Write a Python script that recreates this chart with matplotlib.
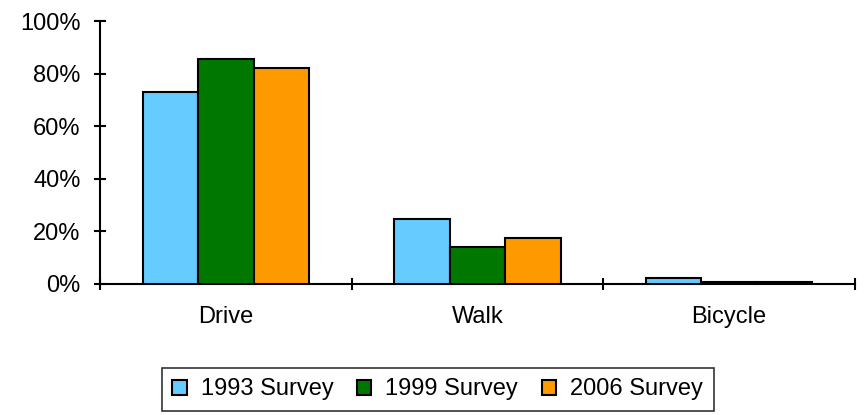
import numpy as np
import matplotlib.pyplot as plt
from matplotlib.ticker import FuncFormatter

# 数据
categories = ['Drive', 'Walk', 'Bicycle']
series_names = ['1993 Survey', '1999 Survey', '2006 Survey']
v1993 = [73.0, 24.7, 2.3]
v1999 = [85.6, 14.1, 0.8]
v2006 = [82.1, 17.5, 0.8]
colors = ['#66ccff', '#007800', '#ff9900']

plt.rcParams['font.family'] = ['Liberation Sans', 'DejaVu Sans']

fig = plt.figure(figsize=(8.65, 4.15), dpi=100)
ax = fig.add_axes([0.1156, 0.3157, 0.8728, 0.6333])

x = np.arange(len(categories))
w = 0.22
for i, (vals, name, c) in enumerate(zip([v1993, v1999, v2006], series_names, colors)):
    ax.bar(x + (i - 1) * w, vals, width=w, color=c, edgecolor='black',
           linewidth=1.5, label=name, zorder=3)

ax.set_xlim(-0.5, 2.5)
ax.set_ylim(0, 100)
ax.set_yticks(np.arange(0, 101, 20))
ax.yaxis.set_major_formatter(FuncFormatter(lambda v, p: f'{v:.0f}%'))

# x轴刻度在类别边界
ax.set_xticks([-0.5, 0.5, 1.5, 2.5])
ax.set_xticklabels([])
ax.set_xticks(x, minor=True)
ax.set_xticklabels(categories, minor=True, fontsize=17)
ax.tick_params(axis='x', which='minor', length=0, pad=16)
ax.tick_params(axis='x', which='major', direction='inout', length=8, width=1.5)
ax.tick_params(axis='y', direction='inout', length=8, width=1.5, labelsize=17, pad=10)

for s in ['top', 'right']:
    ax.spines[s].set_visible(False)
for s in ['left', 'bottom']:
    ax.spines[s].set_linewidth(1.5)

leg = fig.legend(loc='lower center', bbox_to_anchor=(0.506, -0.019), ncol=3,
                 fontsize=17, frameon=True, fancybox=False, edgecolor='black',
                 handlelength=0.6, handleheight=0.6, handletextpad=0.6,
                 columnspacing=1.0, borderpad=0.45)
leg.get_frame().set_linewidth(1.2)

fig.savefig('out.png', dpi=100)
